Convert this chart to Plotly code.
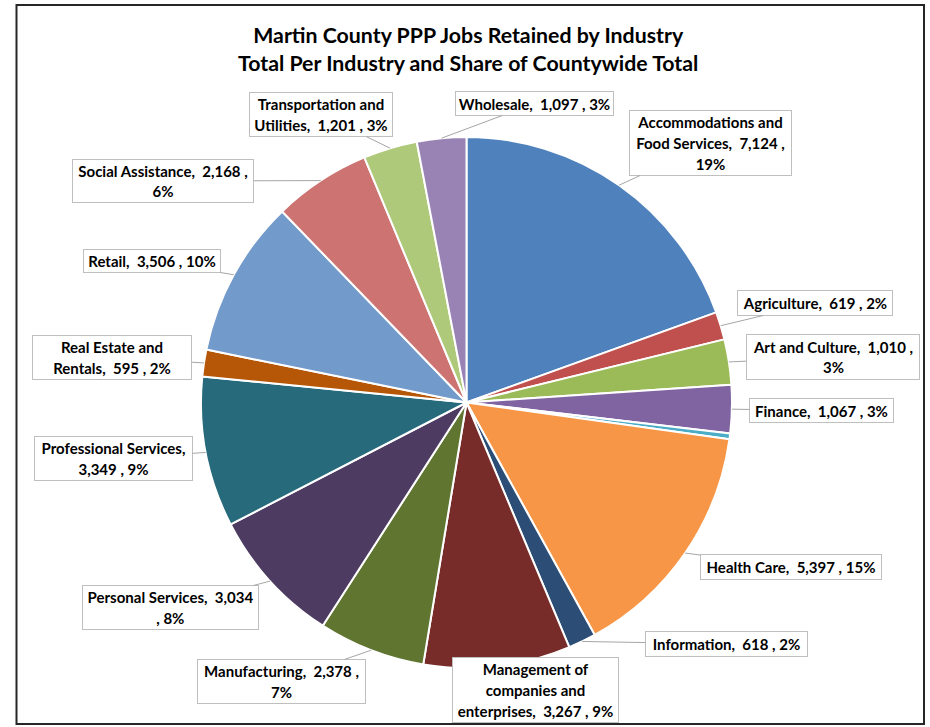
import math
import plotly.graph_objects as go

# ---------------- data ----------------
industries = [
    "Accommodations and Food Services", "Agriculture", "Art and Culture", "Finance",
    "Education", "Health Care", "Information", "Management of companies and enterprises",
    "Manufacturing", "Personal Services", "Professional Services", "Real Estate and Rentals",
    "Retail", "Social Assistance", "Transportation and Utilities", "Wholesale",
]
jobs = [7124, 619, 1010, 1067, 130, 5397, 618, 3267, 2378, 3034, 3349, 595, 3506, 2168, 1201, 1097]
show_label = [True, True, True, True, False, True, True, True, True, True, True, True, True, True, True, True]

title_lines = ["Martin County PPP Jobs Retained by Industry",
               "Total Per Industry and Share of Countywide Total"]

# ---------------- style / layout ----------------
colors = ["#4F81BD", "#C0504D", "#9BBB59", "#8064A2", "#4BACC6", "#F79646",
          "#2C4D75", "#772C2A", "#5F7530", "#4D3B62", "#276A7C", "#B65708",
          "#729ACA", "#CD7371", "#AFC97A", "#9983B5"]

W, H = 930, 727
CX, CY, R = 466.5, 402.5, 265.5

# label box (left, top, right, bottom) in pixels, and tokens per wrapped line
label_box = [
    (629, 110, 792, 176), (737, 290, 893, 316), (746, 334, 920, 380), (749, 398, 894, 423),
    None, (700, 554, 882, 580), (645, 631, 808, 657), (452, 657, 619, 723),
    (197, 659, 366, 704), (82, 585, 259, 630), (34, 436, 193, 481), (32, 335, 192, 380),
    (83, 249, 221, 273), (72, 159, 254, 203), (249, 92, 393, 137), (455, 91, 614, 116),
]
line_tokens = [[2, 4, 1], None, [5, 1], None, None, None, None, [2, 2, 4],
               [3, 1], [3, 2], [2, 3], [3, 4], None, [4, 1], [2, 4], None]
leader = [True] * 16
leader[7] = False

LABEL_PX = 15
FONT = "Lato, 'Open Sans', sans-serif"

total = sum(jobs)

fig = go.Figure()
fig.add_trace(go.Pie(
    labels=industries, values=jobs, sort=False, direction="clockwise", rotation=0,
    marker=dict(colors=colors, line=dict(color="white", width=2)),
    textinfo="none", showlegend=False,
    domain=dict(x=[(CX - R) / W, (CX + R) / W],
                y=[(H - CY - R) / H, (H - CY + R) / H]),
))


def label_text(i):
    name_tokens = industries[i].split(" ")
    name_tokens[-1] += ","
    pct = int(jobs[i] / total * 100 + 0.5)
    tokens = name_tokens + [f"{jobs[i]:,}", ",", f"{pct}%"]
    seps = [" "] * (len(tokens) - 1)
    seps[len(name_tokens) - 1] = "&nbsp;&nbsp;"
    counts = line_tokens[i] or [len(tokens)]
    lines, k = [], 0
    for c in counts:
        s = ""
        for j in range(k, k + c):
            s += tokens[j]
            if j < k + c - 1:
                s += seps[j]
        lines.append(s)
        k += c
    return "<br>".join(f"<span style='font-size:{LABEL_PX}px'>{ln}</span>" for ln in lines)


annotations = []
cum = 0.0
for i, v in enumerate(jobs):
    frac_mid = (cum + v / 2) / total
    cum += v
    if not show_label[i]:
        continue
    ang = 2 * math.pi * frac_mid
    px = CX + R * math.sin(ang)
    py = CY - R * math.cos(ang)
    l, t, r, b = label_box[i]
    bx, by = (l + r) / 2, (t + b) / 2
    common = dict(
        text=label_text(i), xref="paper", yref="paper",
        font=dict(family=FONT, size=16, color="#000000", weight="bold"),
        align="center", valign="middle",
        bgcolor="white", bordercolor="#BFBFBF", borderwidth=1, borderpad=0,
        width=(r - l) - 2, height=(b - t) - 2,
    )
    if leader[i]:
        annotations.append(dict(
            x=px / W, y=1 - py / H, showarrow=True, arrowhead=0, arrowwidth=1,
            arrowcolor="#A6A6A6", standoff=0, ax=bx - px, ay=by - py, **common))
    else:
        annotations.append(dict(x=bx / W, y=1 - by / H, xanchor="center", yanchor="middle",
                                showarrow=False, **common))

annotations.append(dict(
    text="<br>".join(title_lines), xref="paper", yref="paper",
    x=468 / W, y=1 - 48.5 / H, xanchor="center", yanchor="middle", showarrow=False,
    font=dict(family=FONT, size=21.3, color="#000000", weight="bold"), align="center",
))

fig.update_layout(
    width=W, height=H, autosize=False,
    margin=dict(l=0, r=0, t=0, b=0),
    paper_bgcolor="white", plot_bgcolor="white",
    annotations=annotations,
    shapes=[dict(type="rect", xref="paper", yref="paper",
                 x0=16.5 / W, x1=924 / W, y0=1 - 724 / H, y1=1 - 5 / H,
                 line=dict(color="#262626", width=2), layer="below")],
)

fig.write_html("out.html", config={"displayModeBar": False},
               post_script="document.body.style.margin='0';")
